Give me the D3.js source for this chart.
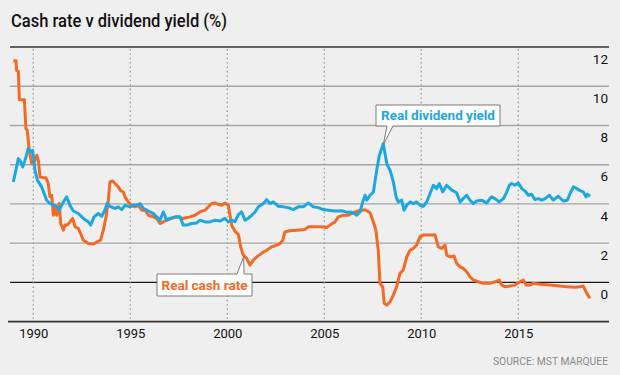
<!DOCTYPE html>
<html>
<head>
<meta charset="utf-8">
<script src="https://cdn.jsdelivr.net/npm/d3@7"></script>
<style>
    html, body { margin: 0; padding: 0; background: #efefef; }
    svg { display: block; font-family: Roboto, "Liberation Sans", sans-serif; }
</style>
</head>
<body>
<svg id="chart" width="620" height="375"></svg>
<script>
// values: [year, %]
const cashRate = [
    [1988.97, 11.3], [1989.11, 11.3], [1989.14, 10.8], [1989.23, 10.77], [1989.28, 9.31], [1989.54, 9.31],
    [1989.62, 7.84], [1989.69, 7.75], [1989.79, 6.73], [1989.92, 6.06], [1990.0, 6.02], [1990.18, 6.48],
    [1990.26, 6.22], [1990.35, 5.37], [1990.52, 5.34], [1990.65, 5.34], [1990.77, 5.04], [1990.86, 4.36],
    [1990.95, 4.44], [1991.03, 3.42], [1991.12, 3.85], [1991.2, 3.42], [1991.34, 4.02], [1991.41, 3.0],
    [1991.55, 2.66], [1991.63, 2.92], [1991.75, 2.92], [1991.89, 3.08], [1992.03, 3.26], [1992.15, 2.83],
    [1992.32, 2.75], [1992.44, 2.49], [1992.58, 2.15], [1992.84, 1.98], [1993.09, 1.95], [1993.3, 2.07],
    [1993.47, 2.15], [1993.61, 2.66], [1993.75, 3.34], [1993.87, 4.19], [1993.95, 5.12], [1994.09, 5.17],
    [1994.21, 5.04], [1994.38, 4.87], [1994.51, 4.66], [1994.64, 4.61], [1994.73, 4.36], [1994.9, 4.1],
    [1995.07, 3.93], [1995.24, 3.85], [1995.41, 3.93], [1995.59, 3.68], [1995.76, 3.68], [1995.93, 3.42],
    [1996.19, 3.34], [1996.36, 3.26], [1996.53, 3.0], [1996.7, 3.08], [1996.88, 3.17], [1997.13, 3.26],
    [1997.39, 3.34], [1997.73, 3.26], [1998.08, 3.34], [1998.34, 3.42], [1998.59, 3.59], [1998.85, 3.68],
    [1999.02, 3.85], [1999.2, 4.02], [1999.37, 4.05], [1999.54, 3.98], [1999.71, 3.93], [1999.88, 4.05],
    [2000.05, 3.93], [2000.14, 3.42], [2000.23, 2.9], [2000.4, 2.6], [2000.57, 2.45], [2000.69, 1.81],
    [2000.82, 1.39], [2001.0, 1.22], [2001.17, 0.88], [2001.34, 1.13], [2001.52, 1.3], [2001.77, 1.48],
    [2002.03, 1.64], [2002.29, 1.81], [2002.55, 1.9], [2002.72, 1.98], [2002.86, 2.15], [2002.97, 2.57],
    [2003.23, 2.63], [2003.58, 2.66], [2004.01, 2.7], [2004.18, 2.83], [2004.52, 2.83], [2004.78, 2.83],
    [2005.12, 2.8], [2005.29, 2.92], [2005.55, 3.08], [2005.72, 3.34], [2005.98, 3.42], [2006.24, 3.42],
    [2006.49, 3.55], [2006.75, 3.65], [2007.1, 3.7], [2007.36, 3.55], [2007.53, 3.08], [2007.66, 2.66],
    [2007.78, 1.64], [2007.87, -0.05], [2008.01, -0.22], [2008.09, -1.07], [2008.22, -1.16], [2008.39, -0.99],
    [2008.56, -0.65], [2008.73, -0.22], [2008.9, 0.46], [2009.07, 0.63], [2009.25, 1.3], [2009.42, 1.64],
    [2009.59, 1.73], [2009.76, 1.9], [2009.93, 2.32], [2010.1, 2.41], [2010.45, 2.41], [2010.71, 2.41],
    [2010.88, 1.81], [2011.05, 1.73], [2011.22, 1.9], [2011.31, 1.39], [2011.48, 1.3], [2011.69, 1.34],
    [2011.82, 0.97], [2012.0, 0.79], [2012.16, 0.71], [2012.34, 0.54], [2012.51, 0.28], [2012.68, 0.12],
    [2012.94, 0.03], [2013.2, -0.05], [2013.54, -0.05], [2013.8, 0.03], [2014.02, 0.12], [2014.14, -0.14],
    [2014.31, -0.22], [2014.57, -0.19], [2014.83, -0.14], [2015.09, 0.03], [2015.26, 0.12], [2015.4, -0.14],
    [2015.6, -0.14], [2015.77, -0.05], [2016.12, -0.09], [2016.63, -0.14], [2017.15, -0.19], [2017.49, -0.22],
    [2017.92, -0.25], [2018.18, -0.22], [2018.35, -0.19], [2018.53, -0.56], [2018.7, -0.81]
];

const dividendYield = [
    [1988.97, 5.12], [1989.23, 6.31], [1989.35, 6.14], [1989.45, 5.88], [1989.57, 6.22], [1989.74, 6.82],
    [1989.87, 6.65], [1989.97, 6.73], [1990.09, 5.71], [1990.21, 5.21], [1990.43, 4.87], [1990.69, 4.19],
    [1990.86, 4.02], [1991.03, 3.93], [1991.2, 3.88], [1991.34, 3.68], [1991.55, 4.1], [1991.72, 4.36],
    [1991.89, 3.93], [1992.06, 3.64], [1992.32, 3.51], [1992.58, 3.26], [1992.84, 3.08], [1992.96, 2.92],
    [1993.13, 3.34], [1993.35, 3.51], [1993.53, 3.37], [1993.7, 3.7], [1993.81, 4.03], [1993.95, 3.88],
    [1994.21, 3.77], [1994.38, 3.85], [1994.56, 3.71], [1994.73, 3.93], [1994.99, 3.85], [1995.15, 3.93],
    [1995.33, 3.93], [1995.5, 4.02], [1995.67, 3.77], [1995.85, 3.68], [1996.02, 3.59], [1996.19, 3.51],
    [1996.36, 3.34], [1996.53, 3.17], [1996.7, 3.59], [1996.88, 3.17], [1997.05, 3.26], [1997.3, 3.34],
    [1997.56, 3.34], [1997.73, 2.92], [1997.91, 2.92], [1998.16, 3.0], [1998.42, 3.03], [1998.59, 3.17],
    [1998.85, 3.08], [1999.11, 3.08], [1999.37, 3.17], [1999.63, 3.13], [1999.88, 3.26], [2000.05, 3.08],
    [2000.23, 3.17], [2000.4, 3.1], [2000.57, 3.45], [2000.74, 3.59], [2000.91, 3.17], [2001.08, 3.26],
    [2001.26, 3.42], [2001.43, 3.59], [2001.6, 3.85], [2001.86, 4.02], [2002.03, 4.22], [2002.2, 4.02],
    [2002.37, 4.1], [2002.63, 3.88], [2002.89, 3.85], [2003.14, 3.81], [2003.4, 3.71], [2003.66, 3.85],
    [2003.92, 3.85], [2004.18, 4.05], [2004.43, 3.85], [2004.69, 3.81], [2004.95, 3.71], [2005.21, 3.68],
    [2005.55, 3.64], [2005.9, 3.65], [2006.15, 3.58], [2006.41, 3.59], [2006.67, 3.42], [2006.84, 3.59],
    [2006.98, 4.1], [2007.1, 4.44], [2007.19, 4.19], [2007.36, 4.44], [2007.53, 4.61], [2007.7, 5.71],
    [2007.84, 6.48], [2007.96, 6.82], [2008.04, 7.07], [2008.13, 6.57], [2008.22, 6.06], [2008.39, 5.71],
    [2008.56, 5.12], [2008.7, 4.36], [2008.81, 4.1], [2008.99, 4.19], [2009.11, 3.68], [2009.25, 3.93],
    [2009.42, 4.1], [2009.59, 4.02], [2009.76, 4.1], [2009.93, 3.93], [2010.1, 3.88], [2010.28, 4.1],
    [2010.45, 4.53], [2010.62, 4.95], [2010.79, 4.78], [2010.93, 5.04], [2011.1, 4.61], [2011.31, 4.95],
    [2011.57, 4.7], [2011.82, 4.57], [2012.0, 4.1], [2012.16, 4.27], [2012.34, 4.44], [2012.51, 4.19],
    [2012.68, 4.02], [2012.85, 4.15], [2013.11, 4.19], [2013.37, 4.05], [2013.5, 4.22], [2013.63, 4.36],
    [2013.8, 4.27], [2014.02, 4.1], [2014.23, 4.27], [2014.37, 4.53], [2014.54, 4.95], [2014.66, 5.04],
    [2014.83, 4.95], [2015.0, 5.07], [2015.18, 4.78], [2015.35, 4.66], [2015.52, 4.44], [2015.69, 4.49],
    [2015.86, 4.22], [2016.03, 4.27], [2016.21, 4.19], [2016.38, 4.27], [2016.6, 4.44], [2016.8, 4.19],
    [2017.06, 4.39], [2017.32, 4.15], [2017.53, 4.19], [2017.67, 4.53], [2017.84, 4.87], [2018.01, 4.78],
    [2018.22, 4.66], [2018.35, 4.61], [2018.49, 4.36], [2018.56, 4.49], [2018.7, 4.39]
];

const yearTicks = [1990, 1995, 2000, 2005, 2010, 2015];
const valueTicks = [0, 2, 4, 6, 8, 10, 12];

const ORANGE = "#f26a25",
    BLUE = "#1ba8e2";

const svg = d3.select("#chart");

const plotLeft = 10,
    plotRight = 609,
    plotTop = 47,
    plotBottom = 321.6;

const x = d3.scaleLinear()
    .domain([1990, 2015])
    .range([33.3, 518.3]);
const y = d3.scaleLinear()
    .domain([-2, 12])
    .range([plotBottom, plotTop]);

// title
svg.append("text")
    .attr("x", 11)
    .attr("y", 27)
    .attr("font-size", 18.5)
    .attr("font-weight", 500)
    .attr("fill", "#111")
    .attr("textLength", 216)
    .attr("lengthAdjust", "spacingAndGlyphs")
    .text("Cash rate v dividend yield (%)");

// horizontal grid
svg.append("g")
    .selectAll("line")
    .data(d3.range(-2, 13, 2))
    .enter()
    .append("line")
    .attr("x1", d => d === -2 ? 8 : plotLeft)
    .attr("x2", plotRight)
    .attr("y1", d => y(d))
    .attr("y2", d => y(d))
    .attr("stroke", d => d === 0 ? "#1a1a1a" : (d === 12 || d === -2) ? "#333" : "#a5a5a5")
    .attr("stroke-width", d => (d === 12 || d === -2) ? 1.6 : 1.4);

// dotted year lines
svg.append("g")
    .selectAll("line")
    .data(yearTicks)
    .enter()
    .append("line")
    .attr("x1", d => x(d))
    .attr("x2", d => x(d))
    .attr("y1", plotTop + 2)
    .attr("y2", plotBottom - 1)
    .attr("stroke", "#9a9a9a")
    .attr("stroke-width", 1.4)
    .attr("stroke-dasharray", "1.4,3");

// y labels (right side, under each line)
svg.append("g")
    .attr("transform", `translate(${plotRight - 1},0)`)
    .call(d3.axisLeft(y).tickValues(valueTicks).tickSize(0).tickPadding(0))
    .call(g => g.select(".domain").remove())
    .selectAll("text")
    .attr("dy", "1.2em")
    .attr("font-family", "Roboto, sans-serif")
    .attr("font-size", 13.5)
    .attr("fill", "#111");

// x labels
svg.append("g")
    .attr("transform", `translate(0,${plotBottom})`)
    .call(d3.axisBottom(x).tickValues(yearTicks).tickFormat(d3.format("d")).tickSize(0).tickPadding(7))
    .call(g => g.select(".domain").remove())
    .selectAll("text")
    .attr("font-family", "Roboto, sans-serif")
    .attr("font-size", 13)
    .attr("fill", "#111");

const line = d3.line()
    .x(d => x(d[0]))
    .y(d => y(d[1]));

svg.append("path")
    .datum(cashRate)
    .attr("d", line)
    .attr("fill", "none")
    .attr("stroke", ORANGE)
    .attr("stroke-width", 3)
    .attr("stroke-linejoin", "round");

svg.append("path")
    .datum(dividendYield)
    .attr("d", line)
    .attr("fill", "none")
    .attr("stroke", BLUE)
    .attr("stroke-width", 3)
    .attr("stroke-linejoin", "round");

// callout: box with a thin pointer down/up to a point on the line
function callout(box, pointer, tip, label, colour) {
    const g = svg.append("g");
    let d;
    if (pointer.side === "bottom") {
        const b = box.y + box.h;
        d = `M${box.x},${box.y}H${box.x + box.w}V${b}H${pointer.x1}L${tip[0]},${tip[1]}L${pointer.x0},${b}H${box.x}Z`;
    } else {
        d = `M${box.x},${box.y}H${pointer.x0}L${tip[0]},${tip[1]}L${pointer.x1},${box.y}H${box.x + box.w}V${box.y + box.h}H${box.x}Z`;
    }
    g.append("path")
        .attr("d", d)
        .attr("fill", "#fff")
        .attr("stroke", "#7a7a7a")
        .attr("stroke-width", 1);
    g.append("text")
        .attr("x", box.x + box.w / 2)
        .attr("y", box.y + box.h / 2 + 4.8)
        .attr("text-anchor", "middle")
        .attr("font-size", 13.5)
        .attr("font-weight", "bold")
        .attr("fill", colour)
        .text(label);
}

const peak = dividendYield.find(d => d[0] === 2008.04);
callout({x: 376, y: 105, w: 124, h: 21}, {side: "bottom", x0: 387, x1: 393},
    [x(peak[0]), y(peak[1]) + 1], "Real dividend yield", BLUE);

const drop = cashRate.find(d => d[0] === 2000.82);
callout({x: 157, y: 274, w: 95, h: 22}, {side: "top", x0: 237, x1: 244},
    [x(drop[0]) + 0.5, y(drop[1]) + 1.5], "Real cash rate", ORANGE);

// source
svg.append("text")
    .attr("x", 608)
    .attr("y", 365)
    .attr("text-anchor", "end")
    .attr("font-size", 11)
    .attr("fill", "#8a8a8a")
    .attr("textLength", 115)
    .attr("lengthAdjust", "spacingAndGlyphs")
    .text("SOURCE: MST MARQUEE");
</script>
</body>
</html>
